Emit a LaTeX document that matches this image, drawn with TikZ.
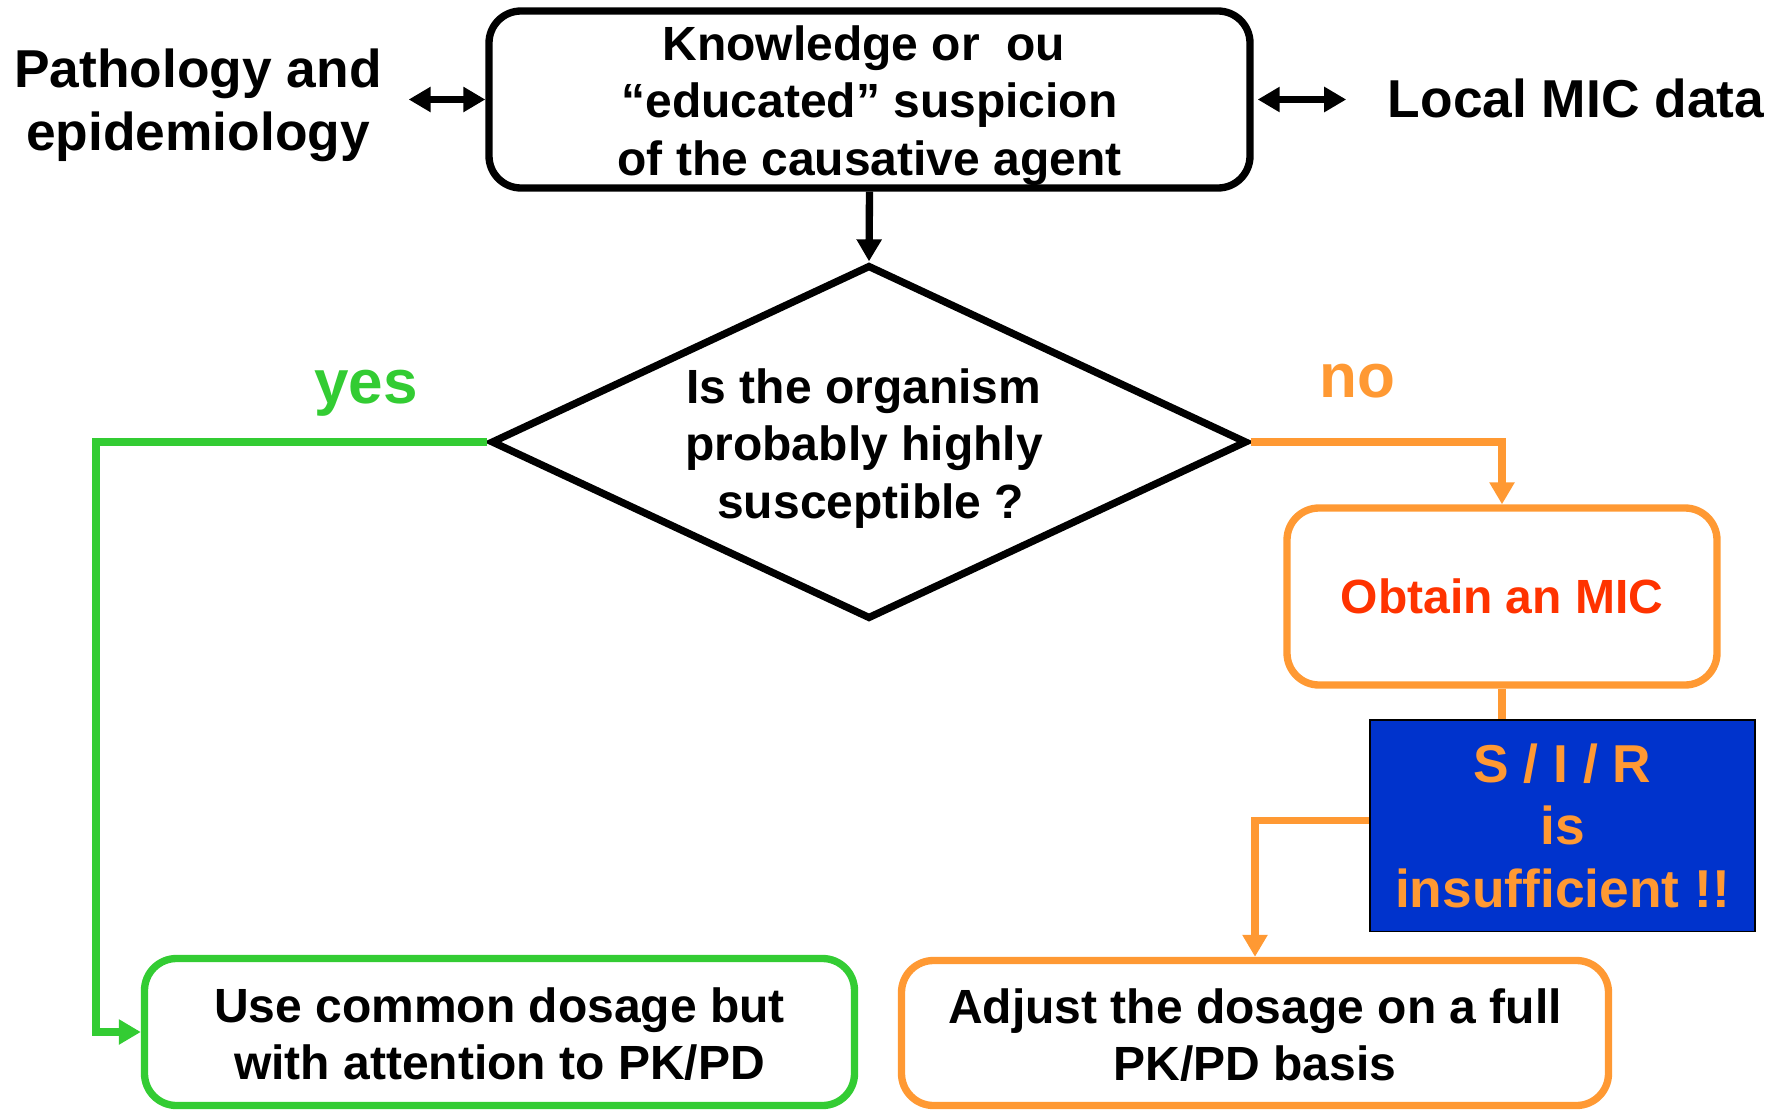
\documentclass[tikz,border=0pt]{standalone}
\usepackage{fontspec}
\setmainfont{Liberation Sans}
\usetikzlibrary{shapes.geometric,arrows.meta}
\definecolor{cgreen}{HTML}{33CC33}
\definecolor{corange}{HTML}{FF9933}
\definecolor{cred}{HTML}{FF3300}
\definecolor{cblue}{HTML}{0033CC}
\begin{document}
\begin{tikzpicture}[x=0.75pt,y=-0.75pt,
  every node/.style={font=\bfseries\fontsize{36}{43}\selectfont, align=center, inner sep=0pt},
  rbox/.style={draw, line width=5.5pt, rounded corners=24pt},
  conn/.style={line width=5.5pt},
  arr/.style={-{Triangle[length=16.5pt,width=18pt]}},
  dbl/.style={line width=5.25pt, {Triangle[length=16.5pt,width=18pt]}-{Triangle[length=16.5pt,width=18pt]}},
  biglbl/.style={font=\bfseries\fontsize{40}{47}\selectfont},
  yn/.style={font=\bfseries\fontsize{46.5}{50}\selectfont, anchor=base}
]
\useasboundingbox (0,0) rectangle (1778,1110);

\node[rbox, minimum width=570.75pt, minimum height=132.75pt] (top) at (869.5,99.5)
  {\rule{0pt}{35.3pt}Knowledge or\ \ ou\rule{8.5pt}{0pt}\\“educated” suspicion\\of the causative agent};
\node[biglbl] (patho) at (198,105.5) {Pathology and\\epidemiology};
\node[biglbl] (local) at (1576,98) {Local MIC data};

\node[diamond, draw, line width=5.5pt, aspect=2.136, minimum width=567pt, minimum height=265.5pt] (dia) at (869,442)
  {\rule{0pt}{35.5pt}Is the organism\rule{7.5pt}{0pt}\\probably highly\rule{7.5pt}{0pt}\\\ susceptible ?\rule{7.5pt}{0pt}};

\node[yn, text=cgreen] (yes) at (366,403) {yes};
\node[yn, text=corange] (no) at (1357,397) {no};

\node[rbox, draw=corange, text=cred, minimum width=322.5pt, minimum height=132.75pt] (mic) at (1502,596.5) {Obtain an MIC};

\node[draw=black, line width=1.2pt, fill=cblue, text=corange, biglbl, minimum width=288.75pt, minimum height=158.7pt] (sir) at (1562.5,825.8)
  {S / I / R\\is\\insufficient !!};

\node[rbox, draw=cgreen, minimum width=532.5pt, minimum height=110.25pt] (use) at (499.5,1032)
  {\rule{0pt}{29pt}Use common dosage but\\with attention to PK/PD};
\node[rbox, draw=corange, minimum width=530.25pt, minimum height=108.75pt] (adj) at (1255,1033)
  {\rule{0pt}{29pt}Adjust the dosage on a full\\PK/PD basis};

\draw[conn, arr] (top.south) -- (dia.north);
\draw[conn, cgreen, arr] (dia.west) -- (96,0 |- dia.west) |- (use.west);
\draw[conn, corange, arr] (dia.east) -| (mic.north);
\draw[conn, corange] (mic.south) -- (mic.south |- sir.north);
\draw[conn, corange, arr] ([yshift=3.75pt]sir.west) -| (adj.north);

\draw[dbl, shorten <=20pt] (patho.east |- top.west) -- (top.west);
\draw[dbl, shorten <=3pt, shorten >=31pt] (top.east) -- (top.east -| local.west);
\end{tikzpicture}
\end{document}
